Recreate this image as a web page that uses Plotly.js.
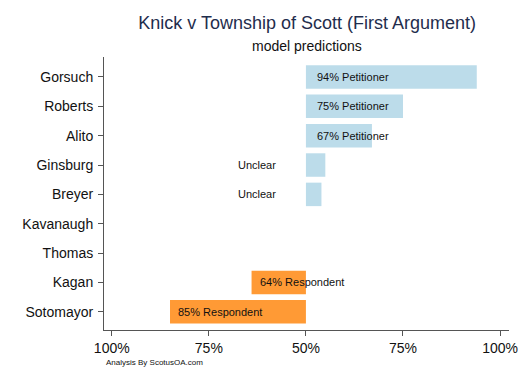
<!DOCTYPE html>
<html>
<head>
<meta charset="utf-8">
<script src="https://cdn.plot.ly/plotly-3.0.1.min.js"></script>
<style>html,body{margin:0;padding:0;background:#fff;}#chart{width:525px;height:382px;}</style>
</head>
<body>
<div id="chart"></div>
<script>
// Data
const justices = ["Gorsuch", "Roberts", "Alito", "Ginsburg", "Breyer", "Kavanaugh", "Thomas", "Kagan", "Sotomayor"];
const predictedPct = [94, 75, 67, 55, 54, null, null, 64, 85];
const predictedSide = ["Petitioner", "Petitioner", "Petitioner", "Unclear", "Unclear", null, null, "Respondent", "Respondent"];
const tickVals = [-50, -25, 0, 25, 50];
const tickText = ["100%", "75%", "50%", "75%", "100%"];

const signed = predictedPct.map((p, i) => p === null ? null : (predictedSide[i] === "Respondent" ? -(p - 50) : (p - 50)));
const colors = predictedSide.map(s => s === "Respondent" ? "#ff9a35" : "#bcdcea");

const font = "Liberation Sans, Arial, Helvetica, sans-serif";

const annotations = [];
justices.forEach((j, i) => {
  const s = predictedSide[i];
  if (!s) return;
  let a = {xref: "x", yref: "y", y: j, showarrow: false, xanchor: "left", yanchor: "middle",
           font: {family: font, size: 11, color: "#111"}};
  if (s === "Petitioner") { a.x = 0; a.xshift = 9; a.text = predictedPct[i] + "% Petitioner"; }
  else if (s === "Respondent") { a.x = signed[i]; a.xshift = 6; a.text = predictedPct[i] + "% Respondent"; }
  else { a.x = 0; a.xshift = -28; a.xanchor = "right"; a.text = "Unclear"; }
  annotations.push(a);
});
annotations.push({xref: "paper", yref: "paper", x: 0, y: 0, xshift: 0, yshift: -26, xanchor: "left", yanchor: "top",
  showarrow: false, text: "Analysis By ScotusOA.com", font: {family: font, size: 8, color: "#111"}});
annotations.push({xref: "paper", yref: "paper", x: 0.5, y: 1, yshift: 11, xanchor: "center", yanchor: "middle",
  showarrow: false, text: "model predictions", font: {family: font, size: 14, color: "#111"}});

const trace = {
  type: "bar", orientation: "h", y: justices, x: signed, base: 0,
  marker: {color: colors, line: {width: 0}}, width: 0.8, hoverinfo: "none"
};

const layout = {
  width: 525, height: 382,
  margin: {l: 104, r: 16, t: 57, b: 52},
  paper_bgcolor: "#fff", plot_bgcolor: "#fff",
  font: {family: font, color: "#111"},
  showlegend: false,
  title: {text: "Knick v Township of Scott (First Argument)", x: 0.585, xanchor: "center", y: 0.94, yanchor: "middle",
          font: {family: font, size: 18, color: "#1f2d4d"}},
  xaxis: {range: [-52, 52.3], tickvals: tickVals, ticktext: tickText, showgrid: false, zeroline: false,
          showline: true, linecolor: "#555", linewidth: 1, ticks: "outside", ticklen: 5, tickcolor: "#555",
          tickfont: {family: font, size: 14, color: "#111"}, fixedrange: true},
  yaxis: {type: "category", categoryorder: "array", categoryarray: justices, range: [8.62, -0.68],
          showgrid: false, zeroline: false, showline: true, linecolor: "#555", linewidth: 1,
          ticks: "outside", ticklen: 5, tickcolor: "#555", ticklabelstandoff: 2,
          tickfont: {family: font, size: 14, color: "#111"}, fixedrange: true},
  annotations: annotations
};

Plotly.newPlot("chart", [trace], layout, {staticPlot: true, displayModeBar: false});
</script>
</body>
</html>
